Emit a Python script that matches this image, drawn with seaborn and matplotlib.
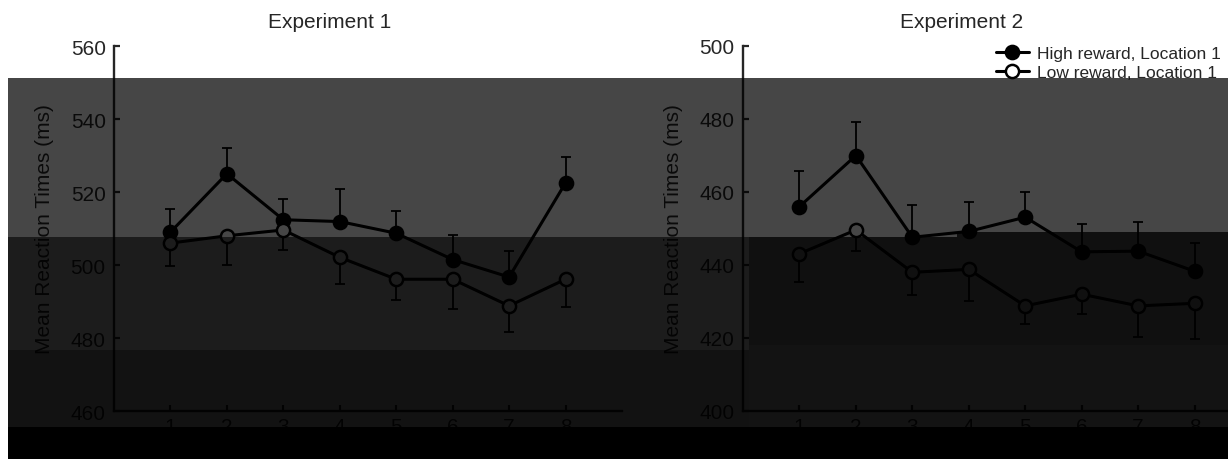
import numpy as np
import pandas as pd
import matplotlib
matplotlib.use("Agg")
import matplotlib.pyplot as plt
from matplotlib.patches import Rectangle
import seaborn as sns

# ---- data ----
blocks = [1, 2, 3, 4, 5, 6, 7, 8]
labels = ["High reward, Location 1", "Low reward, Location 1"]

exp1_high = [509.0, 525.0, 512.4, 511.9, 508.7, 501.5, 496.7, 522.5]
exp1_high_err = [6.3, 7.0, 5.7, 8.9, 6.2, 6.6, 7.1, 7.1]
exp1_low = [506.0, 508.0, 509.6, 502.1, 496.1, 496.1, 488.8, 496.1]
exp1_low_err = [6.3, 7.9, 5.4, 7.4, 5.8, 8.1, 7.2, 7.5]

exp2_high = [456.0, 470.0, 447.6, 449.2, 453.1, 443.6, 443.8, 438.3]
exp2_high_err = [9.8, 9.3, 8.8, 8.1, 7.0, 7.7, 8.1, 7.7]
exp2_low = [443.1, 449.6, 438.0, 438.8, 428.8, 432.0, 428.8, 429.5]
exp2_low_err = [7.7, 5.8, 6.3, 8.6, 5.0, 5.5, 8.6, 9.8]

exp1_yticks = [460, 480, 500, 520, 540, 560]
exp2_yticks = [400, 420, 440, 460, 480, 500]

sns.set_style("ticks")
plt.rcParams["font.family"] = ["Liberation Sans", "DejaVu Sans"]

W, H = 1228, 460
fig = plt.figure(figsize=(W / 100, H / 100), dpi=100)


def panel(left_px, high, high_err, low, low_err, yticks):
    ax = fig.add_axes([left_px / W, 48 / H, 508 / W, 365 / H])
    zeros = np.zeros(len(blocks))
    ax.errorbar(blocks, high, yerr=[zeros, high_err], fmt="none", ecolor="black",
                elinewidth=1.3, capsize=3.8, capthick=1.3, zorder=1, label="_nolegend_")
    ax.errorbar(blocks, low, yerr=[low_err, zeros], fmt="none", ecolor="black",
                elinewidth=1.3, capsize=3.8, capthick=1.3, zorder=1, label="_nolegend_")

    df = pd.DataFrame({
        "block": blocks + blocks,
        "rt": list(high) + list(low),
        "cond": [labels[0]] * len(blocks) + [labels[1]] * len(blocks),
    })
    for cond, face in zip(labels, ["black", "white"]):
        sns.lineplot(data=df[df["cond"] == cond], x="block", y="rt", ax=ax,
                     color="black", lw=2.2, marker="o", ms=9.5, mfc=face,
                     mec="black", mew=1.8, errorbar=None, label=cond, legend=False)

    ax.set_xlim(0, 9)
    ax.set_ylim(yticks[0], yticks[-1])
    ax.set_xticks(blocks)
    ax.set_yticks(yticks)
    ax.set_xlabel("")
    ax.set_ylabel("Mean Reaction Times (ms)", fontsize=15)
    ax.yaxis.set_label_coords(-60 / 508, 0.5)
    sns.despine(ax=ax)
    for s in ["left", "bottom"]:
        ax.spines[s].set_linewidth(1.7)
    ax.tick_params(axis="both", direction="in", length=4.5, width=1.6, labelsize=15)
    ax.tick_params(axis="y", pad=6)
    ax.tick_params(axis="x", pad=4)
    return ax


ax1 = panel(114, exp1_high, exp1_high_err, exp1_low, exp1_low_err, exp1_yticks)
ax2 = panel(743, exp2_high, exp2_high_err, exp2_low, exp2_low_err, exp2_yticks)

fig.text(330 / W, 1 - 22 / H, "Experiment 1", ha="center", va="center", fontsize=15)
fig.text(962 / W, 1 - 22 / H, "Experiment 2", ha="center", va="center", fontsize=15)

handles, labs = ax2.get_legend_handles_labels()
fig.legend(handles, labs, loc="upper left", bbox_to_anchor=(996 / W, 1 - 47 / H),
           frameon=False, fontsize=12.5, handlelength=1.9, handletextpad=0.45,
           labelspacing=0.22, borderpad=0, borderaxespad=0)

# dark scan bands over the picture (x0, y0, x1, y1 in px, grey level)
bands = [
    (8, 79, 957, 238, 70),
    (957, 79, 1228, 233, 70),
    (8, 238, 749, 351, 28),
    (749, 238, 957, 346, 16),
    (957, 233, 1228, 346, 16),
    (8, 351, 749, 428, 18),
    (749, 346, 1228, 428, 19),
    (8, 428, 1228, 460, 0),
]
for x0, y0, x1, y1, g in bands:
    fig.add_artist(Rectangle((x0 / W, 1 - y1 / H), (x1 - x0) / W, (y1 - y0) / H,
                             transform=fig.transFigure, facecolor="black",
                             alpha=1 - g / 255, edgecolor="none", zorder=50))

fig.savefig("out.png", dpi=100)
